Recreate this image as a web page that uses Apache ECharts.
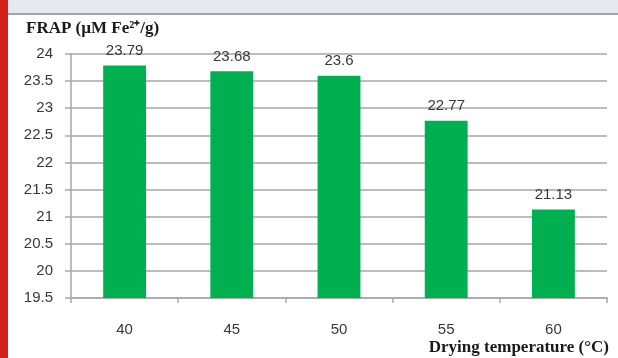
<!DOCTYPE html>
<html>
<head>
<meta charset="utf-8">
<script src="https://cdn.jsdelivr.net/npm/echarts@6/dist/echarts.min.js"></script>
<style>
  html, body { margin: 0; padding: 0; background: #ffffff; }
  #chart { width: 618px; height: 358px; }
</style>
</head>
<body>
<div id="chart"></div>
<script>
// Drying temperatures (°C) and measured FRAP antioxidant capacity
const temperatures = ['40', '45', '50', '55', '60'];
const frapValues = [23.79, 23.68, 23.6, 22.77, 21.13];

// Value axis range
const yMin = 19.5;
const yMax = 24;
const yStep = 0.5;

const chart = echarts.init(document.getElementById('chart'), null, { renderer: 'canvas' });

const tickText = { color: '#383838', fontFamily: 'Liberation Sans, Arial, sans-serif', fontSize: 15 };

chart.setOption({
  animation: false,
  backgroundColor: '#ffffff',
  grid: { left: 71, right: 11, top: 54, bottom: 60, containLabel: false },
  xAxis: {
    type: 'category',
    data: temperatures,
    axisLine: { show: true, lineStyle: { color: '#a6a6a6', width: 1.5 } },
    axisTick: { show: true, alignWithLabel: false, length: 5, lineStyle: { color: '#a6a6a6', width: 1.5 } },
    axisLabel: Object.assign({ margin: 24 }, tickText),
    splitLine: { show: false }
  },
  yAxis: {
    type: 'value',
    min: yMin,
    max: yMax,
    interval: yStep,
    axisLine: { show: true, lineStyle: { color: '#a6a6a6', width: 1.5 } },
    axisTick: { show: true, length: 6, lineStyle: { color: '#a6a6a6', width: 1.5 } },
    axisLabel: Object.assign({ margin: 18 }, tickText),
    splitLine: { show: true, lineStyle: { color: '#a6a6a6', width: 1.5 } }
  },
  series: [{
    type: 'bar',
    data: frapValues,
    barWidth: '40%',
    itemStyle: { color: '#00b050' },
    label: {
      show: true,
      position: 'top',
      distance: 7,
      color: '#383838',
      fontFamily: 'Liberation Sans, Arial, sans-serif',
      fontSize: 15
    }
  }],
  graphic: [
    // page header strip and rule
    { type: 'rect', left: 0, top: 0, shape: { width: 618, height: 13 }, style: { fill: '#e5eaf1' }, silent: true },
    { type: 'rect', left: 0, top: 13, shape: { width: 618, height: 2 }, style: { fill: '#a3a3a3' }, silent: true },
    // red margin band
    { type: 'rect', left: 0, top: 0, shape: { width: 8, height: 358 }, style: { fill: '#d2201a' }, silent: true },
    // axis titles
    {
      type: 'text', left: 26, top: 20,
      style: {
        text: 'FRAP (µM Fe²⁺/g)',
        fill: '#1a1a1a',
        font: 'bold 17px "Liberation Serif", "Times New Roman", serif'
      }
    },
    {
      type: 'text', right: 9, top: 339,
      style: {
        text: 'Drying temperature (°C)',
        fill: '#1a1a1a',
        font: 'bold 17px "Liberation Serif", "Times New Roman", serif'
      }
    }
  ]
});
</script>
</body>
</html>
